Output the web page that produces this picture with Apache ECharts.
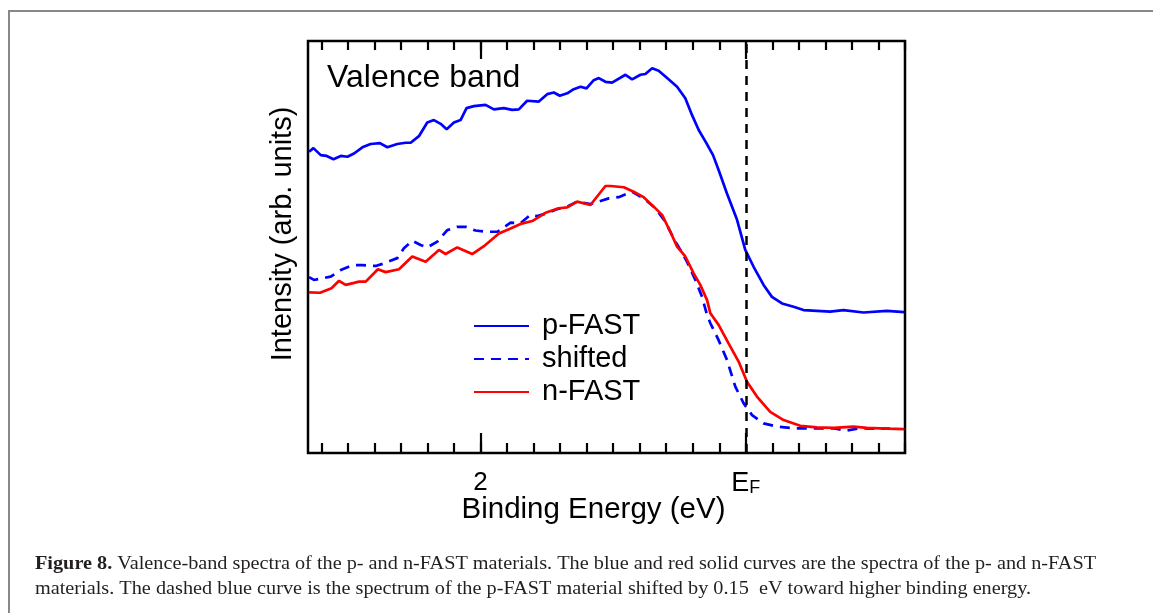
<!DOCTYPE html>
<html>
<head>
<meta charset="utf-8">
<title>Valence band</title>
<script src="https://cdn.jsdelivr.net/npm/echarts@6/dist/echarts.min.js"></script>
<style>
  html, body { margin: 0; padding: 0; background: #fff; }
  #chart { width: 1153px; height: 613px; }
</style>
</head>
<body>
<div id="chart"></div>
<script>
// Binding energy (eV, relative to E_F) and intensity (arb. units, 0-100 frame scale)
const pFAST = [
  [3.292, 73.1], [3.259, 74.0], [3.204, 72.3], [3.159, 72.1], [3.108, 71.3],
  [3.053, 72.1], [3.003, 71.9], [2.953, 72.7], [2.890, 74.2], [2.828, 75.0],
  [2.758, 75.2], [2.702, 74.2], [2.627, 75.0], [2.564, 75.3], [2.526, 75.3],
  [2.464, 76.9], [2.401, 80.2], [2.351, 80.8], [2.300, 79.9], [2.255, 78.6],
  [2.200, 80.2], [2.150, 80.8], [2.105, 83.7], [2.050, 84.2], [1.962, 84.5],
  [1.899, 83.4], [1.824, 83.7], [1.761, 83.3], [1.711, 83.4], [1.648, 85.5],
  [1.560, 85.3], [1.497, 87.1], [1.447, 87.5], [1.402, 86.7], [1.346, 87.3],
  [1.297, 88.3], [1.246, 88.9], [1.201, 88.5], [1.146, 90.5], [1.108, 91.0],
  [1.058, 90.1], [1.008, 89.9], [0.907, 91.8], [0.857, 90.7], [0.794, 91.8],
  [0.757, 92.0], [0.706, 93.4], [0.657, 92.8], [0.593, 91.0], [0.518, 88.9],
  [0.456, 86.1], [0.405, 82.0], [0.355, 78.4], [0.297, 75.2], [0.247, 72.3],
  [0.205, 68.7], [0.142, 63.0], [0.066, 56.6], [0.004, 49.3], [-0.059, 45.2],
  [-0.134, 40.8], [-0.197, 37.9], [-0.273, 36.3], [-0.360, 35.5], [-0.435, 34.7],
  [-0.536, 34.5], [-0.636, 34.3], [-0.736, 34.7], [-0.887, 34.1], [-1.063, 34.5],
  [-1.194, 34.2]
];

const shifted = [
  [3.292, 42.7], [3.255, 42.0], [3.129, 42.8], [3.053, 44.4], [2.965, 45.6],
  [2.890, 45.6], [2.790, 45.4], [2.739, 45.9], [2.627, 47.3], [2.577, 49.7],
  [2.514, 51.5], [2.451, 50.5], [2.401, 49.9], [2.325, 51.3], [2.250, 54.1],
  [2.175, 54.9], [2.112, 54.9], [2.037, 54.0], [1.949, 53.7], [1.873, 53.7],
  [1.773, 55.9], [1.698, 55.8], [1.623, 57.8], [1.572, 57.5], [1.497, 58.2],
  [1.422, 59.2], [1.346, 59.8], [1.271, 61.0], [1.171, 60.4], [1.033, 61.8],
  [0.958, 62.1], [0.857, 63.4], [0.770, 61.8], [0.681, 59.4], [0.606, 56.1],
  [0.531, 51.3], [0.493, 49.3], [0.443, 46.4], [0.380, 42.0], [0.330, 37.9],
  [0.292, 33.5], [0.267, 31.5], [0.205, 27.4], [0.142, 22.6], [0.079, 16.1],
  [0.017, 12.1], [-0.047, 9.2], [-0.134, 7.2], [-0.235, 6.4], [-0.360, 6.0],
  [-0.511, 6.0], [-0.661, 6.0], [-0.749, 5.4], [-0.862, 6.0], [-1.038, 5.9],
  [-1.088, 5.9]
];

const nFAST = [
  [3.292, 39.0], [3.209, 38.9], [3.123, 40.0], [3.066, 41.8], [3.016, 40.8],
  [2.953, 41.3], [2.916, 41.6], [2.865, 41.6], [2.773, 44.6], [2.715, 43.9],
  [2.614, 44.6], [2.514, 47.7], [2.413, 46.4], [2.313, 49.3], [2.263, 48.3],
  [2.175, 49.9], [2.062, 48.3], [1.974, 50.2], [1.861, 53.3], [1.773, 54.5],
  [1.698, 55.6], [1.610, 56.3], [1.510, 58.3], [1.410, 59.4], [1.346, 59.6],
  [1.271, 61.0], [1.171, 60.2], [1.058, 64.8], [1.020, 64.8], [0.920, 64.5],
  [0.845, 63.4], [0.770, 62.1], [0.694, 59.8], [0.631, 57.8], [0.569, 53.7],
  [0.518, 50.1], [0.456, 47.7], [0.393, 43.6], [0.343, 40.8], [0.292, 37.1],
  [0.267, 33.9], [0.205, 31.1], [0.130, 26.6], [0.054, 22.2], [-0.009, 17.3],
  [-0.084, 13.7], [-0.184, 10.0], [-0.285, 8.0], [-0.410, 6.6], [-0.536, 6.2],
  [-0.661, 6.1], [-0.812, 6.4], [-0.913, 6.1], [-1.063, 5.9], [-1.194, 5.8]
];

// Labelled energies on the binding-energy axis
const labelValues = [2, 0];
const labelTexts = ['2', '{e|E}{f|F}'];
const fermiLevel = 0;

// Minor ticks every 0.2 eV across the axis range
const minorTicks = [];
for (let k = -6; k <= 16; k++) minorTicks.push(+(k * 0.2).toFixed(1));

const SANS = 'Liberation Sans, Arial, Helvetica, sans-serif';
const SERIF = 'Liberation Serif, Times New Roman, serif';

const baseX = {
  type: 'value', min: -1.2, max: 3.3, inverse: true,
  axisLine: { show: false }, splitLine: { show: false }
};

function tickAxis(position, values, length) {
  return Object.assign({}, baseX, {
    position: position,
    axisTick: { show: true, inside: true, length: length, customValues: values,
                lineStyle: { color: '#000', width: 2.2 } },
    axisLabel: { show: false }
  });
}

const chart = echarts.init(document.getElementById('chart'), null, { renderer: 'canvas' });

chart.setOption({
  animation: false,
  backgroundColor: '#fff',
  title: {
    text: 'Valence band', left: 322, top: 57,
    textStyle: { fontFamily: SANS, fontSize: 32, fontWeight: 'normal', color: '#000' }
  },
  legend: {
    orient: 'vertical', left: 468, top: 306,
    itemWidth: 55, itemHeight: 14, itemGap: 3,
    data: ['p-FAST', 'shifted', 'n-FAST'],
    itemStyle: { opacity: 0 },
    textStyle: { fontFamily: SANS, fontSize: 29, color: '#000', lineHeight: 30,
                 padding: [0, 0, 0, 8] }
  },
  grid: {
    left: 308, right: 248, top: 41, bottom: 160,
    show: true, borderColor: '#000', borderWidth: 2.5,
    outerBoundsMode: 'none'
  },
  xAxis: [
    Object.assign({}, baseX, {
      position: 'bottom',
      axisTick: { show: true, inside: true, length: 10, customValues: minorTicks,
                  lineStyle: { color: '#000', width: 2.2 } },
      axisLabel: {
        show: true, customValues: labelValues, margin: 17,
        fontFamily: SANS, fontSize: 26, color: '#000',
        formatter: function (v) {
          const i = labelValues.findIndex(function (x) { return Math.abs(x - v) < 1e-6; });
          return i >= 0 ? labelTexts[i] : '';
        },
        rich: {
          e: { fontFamily: SANS, fontSize: 27, color: '#000', verticalAlign: 'bottom' },
          f: { fontFamily: SANS, fontSize: 18, color: '#000', verticalAlign: 'bottom' }
        }
      },
      name: 'Binding Energy (eV)', nameLocation: 'middle', nameGap: 42,
      nameMoveOverlap: false,
      nameTextStyle: { fontFamily: SANS, fontSize: 29.5, color: '#000', padding: [0, 26, 0, 0] }
    }),
    tickAxis('bottom', labelValues, 20),
    tickAxis('top', minorTicks, 9),
    tickAxis('top', labelValues, 18)
  ],
  yAxis: {
    type: 'value', min: 0, max: 100,
    axisLine: { show: false }, axisTick: { show: false },
    axisLabel: { show: false }, splitLine: { show: false },
    name: 'Intensity (arb. units)', nameLocation: 'middle', nameRotate: 90, nameGap: 11,
    nameMoveOverlap: false,
    nameTextStyle: { fontFamily: SANS, fontSize: 29, color: '#000', padding: [0, 0, 0, 26] }
  },
  series: [
    {
      name: 'p-FAST', type: 'line', xAxisIndex: 0, data: pFAST,
      showSymbol: false, symbol: 'none',
      lineStyle: { color: '#0000ff', width: 2.7 }, itemStyle: { color: '#0000ff' },
      markLine: {
        silent: true, symbol: ['none', 'none'], label: { show: false },
        lineStyle: { color: '#000', width: 2.5, type: [9, 7] },
        data: [{ xAxis: fermiLevel }]
      }
    },
    {
      name: 'shifted', type: 'line', xAxisIndex: 0, data: shifted,
      showSymbol: false, symbol: 'none',
      lineStyle: { color: '#0000ff', width: 2.7, type: [10, 7] }, itemStyle: { color: '#0000ff' }
    },
    {
      name: 'n-FAST', type: 'line', xAxisIndex: 0, data: nFAST,
      showSymbol: false, symbol: 'none',
      lineStyle: { color: '#ff0000', width: 2.7 }, itemStyle: { color: '#ff0000' }
    }
  ],
  graphic: [
    // thin grey frame on the top and left of the figure
    { type: 'line', silent: true, shape: { x1: 8, y1: 11, x2: 1153, y2: 11 },
      style: { stroke: '#888', lineWidth: 2 } },
    { type: 'line', silent: true, shape: { x1: 9, y1: 10, x2: 9, y2: 613 },
      style: { stroke: '#888', lineWidth: 2 } },
    // caption
    { type: 'text', x: 35, y: 555, scaleX: 1.125, silent: true,
      style: {
        x: 0, y: 0,
        text: '{b|Figure 8.} Valence-band spectra of the p- and n-FAST materials. The blue and red solid curves are the spectra of the p- and n-FAST',
        fontFamily: SERIF, fontSize: 18, fill: '#231f20',
        rich: { b: { fontFamily: SERIF, fontSize: 18, fontWeight: 'bold', fill: '#231f20' } }
      } },
    { type: 'text', x: 35, y: 580, scaleX: 1.125, silent: true,
      style: {
        x: 0, y: 0,
        text: 'materials. The dashed blue curve is the spectrum of the p-FAST material shifted by 0.15  eV toward higher binding energy.',
        fontFamily: SERIF, fontSize: 18, fill: '#231f20'
      } }
  ]
});
</script>
</body>
</html>
